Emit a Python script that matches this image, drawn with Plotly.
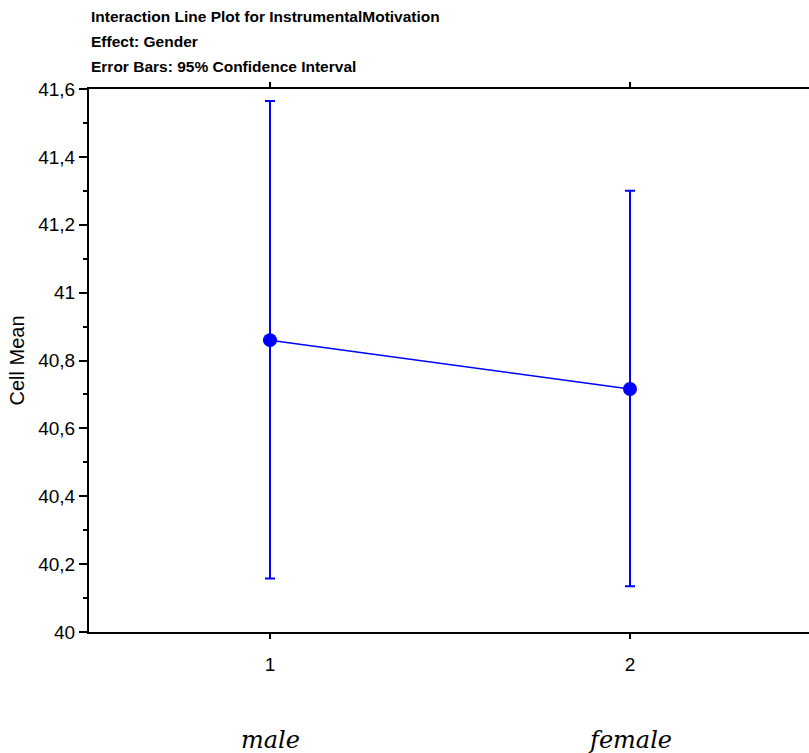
import plotly.graph_objects as go

categories = [1, 2]
group_labels = ["male", "female"]
cell_means = [40.86, 40.716]
ci_upper = [41.565, 41.30]
ci_lower = [40.158, 40.135]
y_ticks = [40, 40.2, 40.4, 40.6, 40.8, 41, 41.2, 41.4, 41.6]
title_lines = ["Interaction Line Plot for InstrumentalMotivation",
               "Effect: Gender",
               "Error Bars: 95% Confidence Interval"]

err_plus = [u - m for u, m in zip(ci_upper, cell_means)]
err_minus = [m - l for m, l in zip(cell_means, ci_lower)]

fig = go.Figure()
fig.add_trace(go.Scatter(
    x=categories, y=cell_means, mode="lines+markers",
    line=dict(color="#0000FF", width=1.5),
    marker=dict(color="#0000FF", size=14),
    error_y=dict(type="data", symmetric=False, array=err_plus, arrayminus=err_minus,
                 color="#0000FF", thickness=2, width=5),
    showlegend=False,
))
# top axis (ticks only, no labels)
fig.add_trace(go.Scatter(x=categories, y=cell_means, xaxis="x2", mode="markers",
                         marker=dict(opacity=0), hoverinfo="skip", showlegend=False))

xrange = [1 - 181 / 360, 2 + 179 / 360]
fig.update_layout(
    width=809, height=753,
    margin=dict(l=89, r=0, t=89, b=121),
    paper_bgcolor="white", plot_bgcolor="white",
    separators=",.",
    font=dict(family="Arial, Liberation Sans", color="black"),
    xaxis=dict(range=xrange, tickvals=categories, ticktext=[str(c) for c in categories],
               showline=True, linecolor="black", linewidth=2, ticks="outside",
               ticklen=5, tickwidth=1.5, tickcolor="black", showgrid=False, zeroline=False,
               tickfont=dict(size=19, color="black"), ticklabelstandoff=9),
    xaxis2=dict(range=xrange, overlaying="x", side="top", tickvals=categories,
                showticklabels=False, showline=True, linecolor="black", linewidth=2,
                ticks="outside", ticklen=5, tickwidth=2, tickcolor="black",
                showgrid=False, zeroline=False),
    yaxis=dict(range=[40, 41.6], tickvals=y_ticks,
               ticktext=[("%g" % v).replace(".", ",") for v in y_ticks],
               showline=True, linecolor="black", linewidth=2, ticks="outside",
               ticklen=8, tickwidth=1.5, tickcolor="black", showgrid=False, zeroline=False,
               tickfont=dict(size=19, color="black"),
               minor=dict(dtick=0.1, ticks="outside", ticklen=4, tickwidth=1.5, tickcolor="black"),
               title=dict(text="Cell Mean", font=dict(size=20, color="black"), standoff=8)),
)

for i, line in enumerate(title_lines):
    fig.add_annotation(text="<b>%s</b>" % line, xref="paper", yref="paper",
                       x=0, y=1, xanchor="left", yanchor="bottom", yshift=62 - 25 * i,
                       showarrow=False, font=dict(size=15.5, family="Arial, Liberation Sans"))

for c, lab in zip(categories, group_labels):
    fig.add_annotation(text="<i>%s</i>" % lab, x=c, xref="x", y=0, yref="paper",
                       yanchor="top", yshift=-92, showarrow=False,
                       font=dict(size=24, family="DejaVu Serif"))

fig.write_html("out.html")
